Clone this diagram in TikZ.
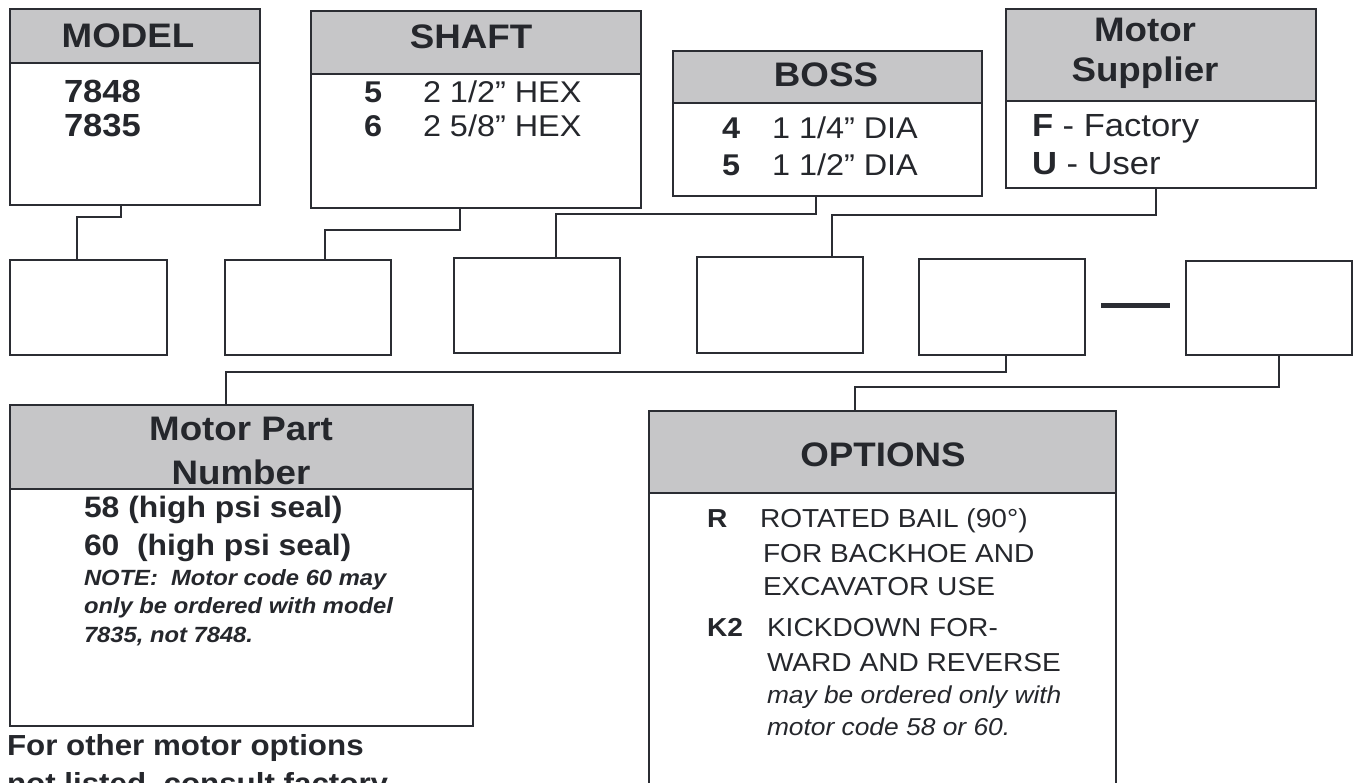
\documentclass[tikz,border=0pt]{standalone}
\usepackage{fontspec}
\setmainfont{Liberation Sans}[FakeStretch=1.08]
\definecolor{linec}{HTML}{2B2D33}
\definecolor{headc}{HTML}{C6C6C8}
\definecolor{textc}{HTML}{25272C}
\newcommand{\hdrf}{\fontsize{34}{40}\selectfont\bfseries}
\newcommand{\bodyf}{\fontsize{30}{36}\selectfont}
\newcommand{\suppf}{\fontsize{32}{38}\selectfont}
\newcommand{\mpnf}{\fontsize{29.5}{36}\selectfont\bfseries}
\newcommand{\notef}{\fontsize{22}{28}\selectfont\bfseries\itshape}
\newcommand{\optf}{\fontsize{26}{32}\selectfont}
\newcommand{\opif}{\fontsize{24.4}{30}\selectfont\itshape}
\newcommand{\botf}{\fontsize{29}{38}\selectfont\bfseries}
\begin{document}
\begin{tikzpicture}[x=1pt,y=-1pt,
  frame/.style={draw=linec, line width=2pt, anchor=north west, inner sep=0pt, outer sep=0pt},
  txt/.style={anchor=base west, inner sep=0pt, outer sep=0pt, text=textc},
  ctxt/.style={anchor=base, inner sep=0pt, outer sep=0pt, text=textc},
  conn/.style={draw=linec, line width=2pt},
  sep/.style={draw=linec, line width=2pt}]
\clip (0,0) rectangle (1356,783);
\fill[white] (0,0) rectangle (1356,783);
% ---------- top boxes ----------
\fill[headc] (10,9) rectangle (260,63);
\node[frame, minimum width=250pt, minimum height=196pt] (model) at (10,9) {};
\draw[sep] (10,63) -- (260,63);
\fill[headc] (311,11) rectangle (641,74);
\node[frame, minimum width=330pt, minimum height=197pt] (shaft) at (311,11) {};
\draw[sep] (311,74) -- (641,74);
\fill[headc] (673,51) rectangle (982,103);
\node[frame, minimum width=309pt, minimum height=145pt] (boss) at (673,51) {};
\draw[sep] (673,103) -- (982,103);
\fill[headc] (1006,9) rectangle (1316,101);
\node[frame, minimum width=310pt, minimum height=179pt] (supp) at (1006,9) {};
\draw[sep] (1006,101) -- (1316,101);
% ---------- code boxes ----------
\node[frame, minimum width=157pt, minimum height=95pt] (b1) at (10,260) {};
\node[frame, minimum width=166pt, minimum height=95pt] (b2) at (225,260) {};
\node[frame, minimum width=166pt, minimum height=95pt] (b3) at (454,258) {};
\node[frame, minimum width=166pt, minimum height=96pt] (b4) at (697,257) {};
\node[frame, minimum width=166pt, minimum height=96pt] (b5) at (919,259) {};
\node[frame, minimum width=166pt, minimum height=94pt] (b6) at (1186,261) {};
\draw[linec, line width=5pt] (1101,306) -- (1170,306);
% ---------- bottom boxes ----------
\fill[headc] (10,405) rectangle (473,489);
\node[frame, minimum width=463pt, minimum height=321pt] (mpn) at (10,405) {};
\draw[sep] (10,489) -- (473,489);
\fill[headc] (649,411) rectangle (1116,493);
\node[frame, minimum width=467pt, minimum height=400pt] (opt) at (649,411) {};
\draw[sep] (649,493) -- (1116,493);
% ---------- connectors ----------
\draw[conn] ([xshift=-14pt]model.south) -- ++(0,12) -| ([xshift=-11.5pt]b1.north);
\draw[conn] ([xshift=-16pt]shaft.south) -- ++(0,22) -| ([xshift=17pt]b2.north);
\draw[conn] ([xshift=-11.5pt]boss.south) -- ++(0,18) -| ([xshift=19pt]b3.north);
\draw[conn] ([xshift=-5pt]supp.south) -- ++(0,27) -| ([xshift=52pt]b4.north);
\draw[conn] ([xshift=4pt]b5.south) -- ++(0,17) -| ([xshift=-15.5pt]mpn.north);
\draw[conn] ([xshift=10pt]b6.south) -- ++(0,32) -| ([xshift=-27.5pt]opt.north);
% ---------- texts ----------
\node[ctxt, font=\hdrf] (hmodel) at (128,48) {MODEL};
\node[txt, font=\fontsize{32}{38}\selectfont\bfseries] (m1) at (64,103) {7848};
\node[txt, font=\fontsize{32}{38}\selectfont\bfseries] (m2) at (64,137) {7835};
\node[ctxt, font=\hdrf] (hshaft) at (471,49) {SHAFT};
\node[txt, font=\bodyf\bfseries] (s1n) at (364,103) {5};
\node[txt, font=\bodyf] (s1) at (423,103) {2 1/2” HEX};
\node[txt, font=\bodyf\bfseries] (s2n) at (364,137) {6};
\node[txt, font=\bodyf] (s2) at (423,137) {2 5/8” HEX};
\node[ctxt, font=\hdrf] (hboss) at (826,87) {BOSS};
\node[txt, font=\bodyf\bfseries] (o1n) at (722,139) {4};
\node[txt, font=\bodyf] (o1) at (772,139) {1 1/4” DIA};
\node[txt, font=\bodyf\bfseries] (o2n) at (722,176) {5};
\node[txt, font=\bodyf] (o2) at (772,176) {1 1/2” DIA};
\node[ctxt, font=\hdrf] (hsupp1) at (1145,42) {Motor};
\node[ctxt, font=\hdrf] (hsupp2) at (1145,82) {Supplier};
\node[txt, font=\suppf] (f1) at (1032,137) {\textbf{F} - Factory};
\node[txt, font=\suppf] (f2) at (1032,175) {\textbf{U} - User};
\node[ctxt, font=\hdrf] (hmpn1) at (241,440) {Motor Part};
\node[ctxt, font=\hdrf] (hmpn2) at (241,484) {Number};
\node[txt, font=\mpnf] (p1) at (84,517) {58 (high psi seal)};
\node[txt, font=\mpnf] (p2) at (84,555) {60\ \ (high psi seal)};
\node[txt, font=\notef] (n1) at (84,585) {NOTE:\ \ Motor code 60 may};
\node[txt, font=\notef] (n2) at (84,613) {only be ordered with model};
\node[txt, font=\notef] (n3) at (84,642) {7835, not 7848.};
\node[ctxt, font=\hdrf] (hopt) at (883,466) {OPTIONS};
\node[txt, font=\optf\bfseries] (rk) at (707,527) {R};
\node[txt, font=\optf] (r1) at (760,527) {ROTATED BAIL (90°)};
\node[txt, font=\optf] (r2) at (763,562) {FOR BACKHOE AND};
\node[txt, font=\optf] (r3) at (763,595) {EXCAVATOR USE};
\node[txt, font=\optf\bfseries] (kk) at (707,636) {K2};
\node[txt, font=\optf] (k1) at (767,636) {KICKDOWN FOR-};
\node[txt, font=\optf] (k2) at (767,671) {WARD AND REVERSE};
\node[txt, font=\opif] (k3) at (767,703) {may be ordered only with};
\node[txt, font=\opif] (k4) at (767,735) {motor code 58 or 60.};
\node[txt, font=\botf] (bt1) at (7,755) {For other motor options};
\node[txt, font=\botf] (bt2) at (7,793) {not listed, consult factory};
\end{tikzpicture}
\end{document}
